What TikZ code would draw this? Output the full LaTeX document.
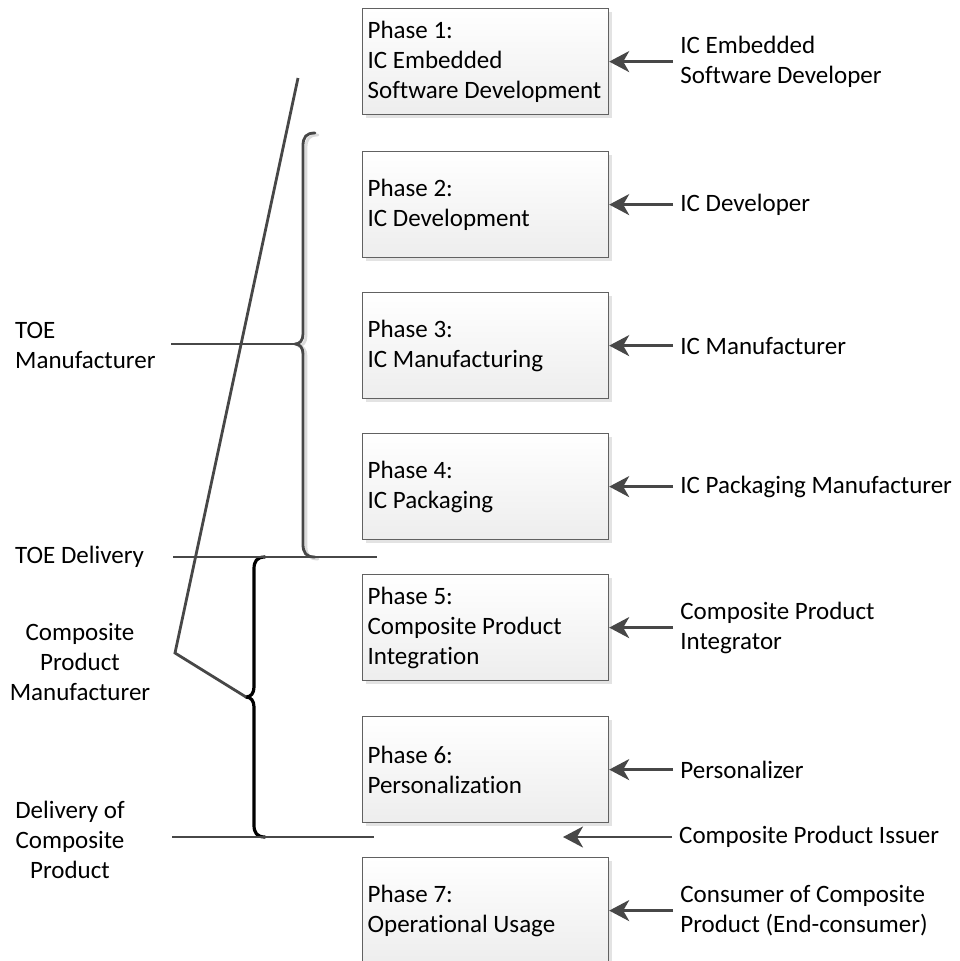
\documentclass[tikz,border=0pt]{standalone}
\usepackage{fontspec}
\setmainfont[Ligatures=NoCommon]{Carlito}
\usetikzlibrary{arrows.meta,shadows}
\begin{document}
\begin{tikzpicture}[x=1pt, y=-1pt,
    font=\fontsize{25}{30}\selectfont,
    phase/.style={draw=black!62, line width=1.2pt, top color=white, bottom color=black!7,
      minimum width=246pt, minimum height=106pt, text width=236pt, inner sep=5pt, align=flush left,
      drop shadow={shadow xshift=3pt, shadow yshift=-3pt, fill=black!11, opacity=1}},
    role/.style={anchor=west, align=left, inner xsep=7pt, inner ysep=0pt},
    side/.style={align=center, inner sep=0pt},
    grayline/.style={draw=black!72, line width=2.8pt},
    arr/.style={grayline, -{Stealth[length=20pt, width=21pt, inset=6pt]}},
    bracket/.style={line width=2.8pt, line cap=round, line join=round}
  ]
  \useasboundingbox (0,0) rectangle (960,961);
  % phases (number/top/text)
  \foreach \n/\y/\txt in {
    1/8/{Phase 1:\\IC Embedded\\Software Development},
    2/151/{Phase 2:\\IC Development},
    3/292/{Phase 3:\\IC Manufacturing},
    4/433/{Phase 4:\\IC Packaging},
    5/574/{Phase 5:\\Composite Product\\Integration},
    6/716/{Phase 6:\\Personalization},
    7/857/{Phase 7:\\Operational Usage}}
  {
    \node[phase, anchor=north west] (ph\n) at (362,\y) {\txt};
  }
  % roles (number/text)
  \foreach \n/\r in {
    1/{IC Embedded\\Software Developer},
    2/{IC Developer},
    3/{IC Manufacturer},
    4/{IC Packaging Manufacturer},
    5/{Composite Product\\Integrator},
    6/{Personalizer},
    7/{Consumer of Composite\\Product (End-consumer)}}
  {
    \path (ph\n.east) ++(64,0) node[role] (ro\n) {\r};
    \draw[arr] (ro\n.west) -- (ph\n.east);
  }
  % issuer
  \coordinate (iss) at (563,837);
  \node[role] (ro8) at (672,837) {Composite Product Issuer};
  \draw[arr] (ro8.west) -- (iss);
  % left labels
  \node[anchor=west, align=left, inner sep=0pt] (toeman) at (15,345) {TOE\\Manufacturer};
  \node[anchor=west, inner sep=0pt] (toedel) at (15,557) {TOE Delivery};
  \node[side] (cpman) at (80,662) {Composite\\Product\\Manufacturer};
  \node[side] (cpdel) at (70,840) {Delivery of\\Composite\\Product};
  % brace tips and line ends
  \coordinate (toetip) at (295,344);
  \coordinate (cptip) at (246,697);
  \coordinate (toel) at (171,344);
  \coordinate (dell) at (173,557);
  \coordinate (delr) at (377,557);
  \coordinate (cpdl) at (172,837);
  \coordinate (cpdr) at (374,837);
  \coordinate (sltop) at (298,78);
  \coordinate (knee) at (175,653);
  % TOE brace
  \draw[bracket, black!14, shift={(3,2)}] (315,133) .. controls (306,133) and (303,137) .. (303,146)
    -- (303,334) .. controls (303,340) and (300,344) .. (295,344)
    .. controls (300,344) and (303,348) .. (303,354) -- (303,544)
    .. controls (303,553) and (306,557) .. (315,557);
  \draw[bracket, black!72] (315,133) .. controls (306,133) and (303,137) .. (303,146)
    -- (303,334) .. controls (303,340) and (300,344) .. (toetip)
    .. controls (300,344) and (303,348) .. (303,354) -- (303,544)
    .. controls (303,553) and (306,557) .. (315,557);
  % composite brace
  \draw[bracket, black, line width=3.2pt] (265,557) .. controls (257,557) and (254,561) .. (254,569)
    -- (254,687) .. controls (254,693) and (251,697) .. (cptip)
    .. controls (251,697) and (254,701) .. (254,707) -- (254,825)
    .. controls (254,833) and (257,837) .. (265,837);
  % lines
  \draw[grayline] (toel) -- (toetip);
  \draw[grayline] (dell) -- (delr);
  \draw[grayline] (cpdl) -- (cpdr);
  \draw[grayline, line join=miter] (sltop) -- (knee) -- (cptip);
\end{tikzpicture}
\end{document}
